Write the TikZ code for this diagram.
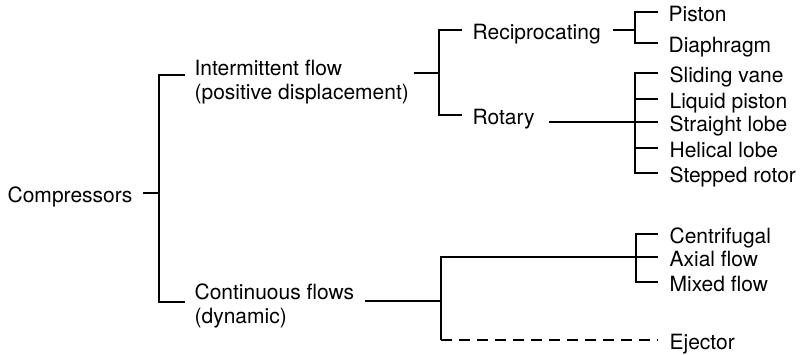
\documentclass[tikz,border=0pt]{standalone}
\usepackage{fontspec}
\setmainfont{TeX Gyre Heros}
\begin{document}
\begin{tikzpicture}[x=1pt,y=-1pt,line width=1.2pt]

\tikzset{Item/.style={anchor=west,inner sep=0pt,text height=19pt,text depth=0pt,font=\fontsize{21}{24}\selectfont}};
\tikzset{TwoLine/.style={anchor=north west,inner sep=0pt,align=left,font=\fontsize{21}{24}\selectfont}};

\useasboundingbox (0,0) rectangle (803,354);

\begin{scope}

\node[Item] (comp) at (7,193) {Compressors};
\node[TwoLine] (inter) at (194,59.5) {Intermittent flow\\(positive displacement)};
\node[TwoLine] (cont) at (194,283.7) {Continuous flows\\(dynamic)};
\coordinate (cb) at (159,193);
\draw ([xshift=10pt]comp.east) -- (cb);
\draw ([xshift=-9pt,yshift=-15.5pt]inter.north west) -| (cb) |- ([xshift=-9pt,yshift=-18.3pt]cont.north west);

\node[Item] (recip) at (472,30) {Reciprocating};
\node[Item] (rot) at (472,115) {Rotary};
\coordinate (ib) at (439,73);
\draw ([xshift=4pt]inter.east |- ib) -- (ib);
\draw ([xshift=-10pt]recip.west) -| (ib) |- ([xshift=-10pt]rot.west);

\node[Item] (piston) at (668,12) {Piston};
\node[Item] (diaph) at (668,43) {Diaphragm};
\coordinate (pb) at (635,30);
\draw ([xshift=12pt]recip.east) -- (pb);
\draw ([xshift=-10pt]piston.west) -| (pb) |- ([xshift=-10pt]diaph.west);

\foreach \n/\y/\t in {svane/73/Sliding vane, lpiston/99/Liquid piston, slobe/122/Straight lobe, hlobe/148/Helical lobe, srotor/173/Stepped rotor}
  \node[Item] (\n) at (669,\y) {\t};
\coordinate (rb) at (635,122);
\draw ([xshift=14pt]rot.east |- rb) -- (rb);
\draw ([xshift=-11pt]svane.west) -| (rb) |- ([xshift=-11pt]srotor.west);
\foreach \n in {lpiston,slobe,hlobe}
  \draw (rb |- \n.west) -- ([xshift=-11pt]\n.west);

\foreach \n/\y/\t in {centri/234/Centrifugal, axial/257/Axial flow, mixed/282/Mixed flow, eject/340/Ejector}
  \node[Item] (\n) at (669,\y) {\t};
\coordinate (db) at (441,301);
\coordinate (fb) at (636,257);
\draw ([xshift=10pt]cont.east |- db) -- (db);
\draw (fb) -| (db) -- (db |- eject.west);
\draw[dash pattern=on 11pt off 7pt] (db |- eject.west) -- ([xshift=-11pt]eject.west);
\draw ([xshift=-11pt]centri.west) -| (fb) |- ([xshift=-11pt]mixed.west);
\draw (fb) -- ([xshift=-11pt]axial.west);

\end{scope}

\end{tikzpicture}
\end{document}
